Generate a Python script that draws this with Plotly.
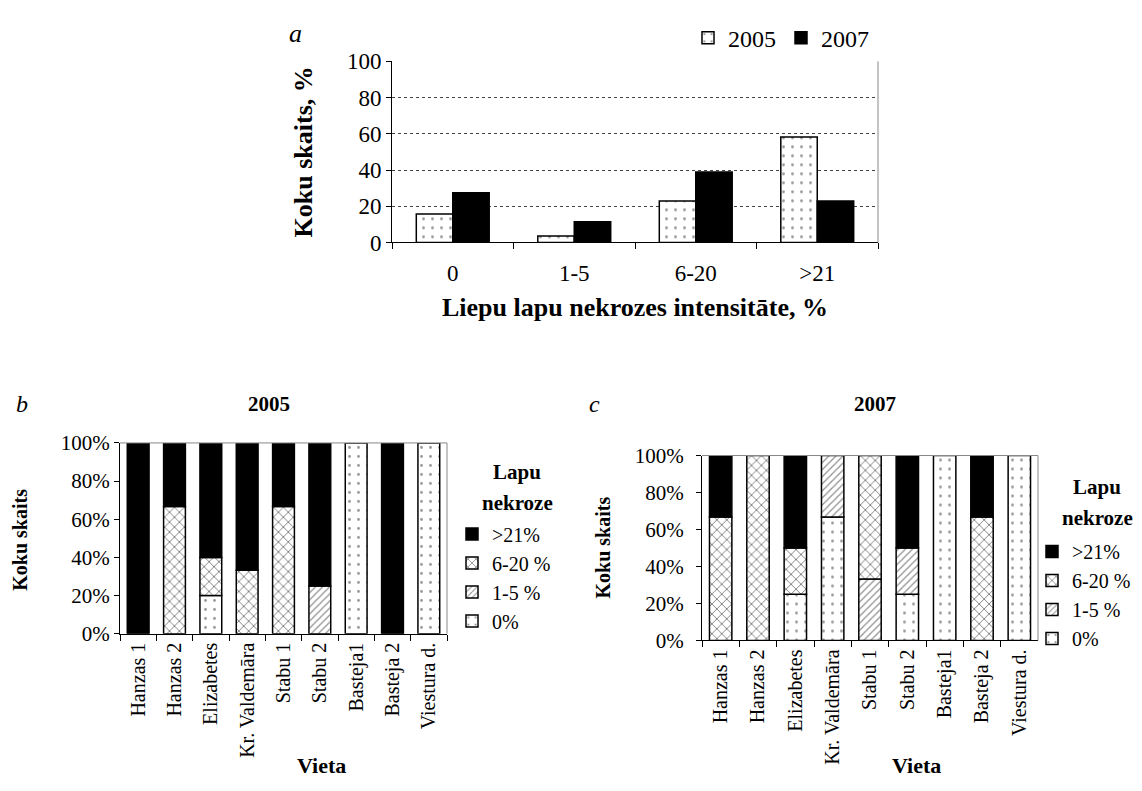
import plotly.graph_objects as go

W, H = 1142, 791
FONT = "'Liberation Serif', 'Times New Roman', Times, 'DejaVu Serif', serif"

# Panel a: share of trees by leaf necrosis intensity
intensity = ["0", "1-5", "6-20", ">21"]
share_2005 = [15.7, 3.6, 22.9, 58.2]
share_2007 = [27.5, 11.4, 38.9, 22.9]

# Panels b and c: necrosis classes per site
sites = ["Hanzas 1", "Hanzas 2", "Elizabetes", "Kr. Valdemāra", "Stabu 1",
         "Stabu 2", "Basteja1", "Basteja 2", "Viestura d."]
classes = ["0%", "1-5 %", "6-20 %", ">21%"]

y2005_0 = [0, 0, 20, 0, 0, 0, 100, 0, 100]
y2005_1_5 = [0, 0, 0, 0, 0, 25, 0, 0, 0]
y2005_6_20 = [0, 66.7, 20, 33.3, 66.7, 0, 0, 0, 0]
y2005_21 = [100, 33.3, 60, 66.7, 33.3, 75, 0, 100, 0]

y2007_0 = [0, 0, 25, 66.7, 0, 25, 100, 0, 100]
y2007_1_5 = [0, 0, 0, 33.3, 33.3, 25, 0, 0, 0]
y2007_6_20 = [66.7, 100, 25, 0, 66.7, 0, 0, 66.7, 0]
y2007_21 = [33.3, 0, 50, 0, 0, 50, 0, 33.3, 0]


def px(x):
    return x / W


def py(y):
    return 1 - y / H


def fill_style(kind):
    line = dict(color="black", width=1.5)
    if kind == "solid":
        return dict(color="black", line=line)
    shape, size, sol, fg = {"dots": (".", 9, 0.08, "#333"),
                            "cross": ("x", 7, 0.25, "black"),
                            "diag": ("/", 5, 0.25, "#222")}[kind]
    return dict(color="white", line=line,
                pattern=dict(shape=shape, fgcolor=fg, bgcolor="white",
                             size=size, solidity=sol))


fig = go.Figure()

# ---- panel a: grouped bars
fig.add_trace(go.Bar(x=intensity, y=share_2005, name="2005", width=0.3, offset=-0.3,
                     marker=fill_style("dots"), xaxis="x", yaxis="y", legend="legend"))
fig.add_trace(go.Bar(x=intensity, y=share_2007, name="2007", width=0.3, offset=0,
                     marker=fill_style("solid"), xaxis="x", yaxis="y", legend="legend"))

# ---- panels b and c: stacked shares via explicit bases
styles = ["dots", "diag", "cross", "solid"]


def add_stack(series, xa, ya, leg):
    base = [0.0] * len(sites)
    for name, vals, st in zip(classes, series, styles):
        y = [v if v > 0 else None for v in vals]
        b = [bv if v > 0 else None for bv, v in zip(base, vals)]
        fig.add_trace(go.Bar(x=sites, y=y, base=b, name=name, width=0.6,
                             marker=fill_style(st), xaxis=xa, yaxis=ya,
                             legend=leg))
        base = [bv + v for bv, v in zip(base, vals)]


add_stack([y2005_0, y2005_1_5, y2005_6_20, y2005_21], "x2", "y2", "legend2")
add_stack([y2007_0, y2007_1_5, y2007_6_20, y2007_21], "x3", "y3", "legend3")

tick_font = dict(family=FONT, size=21, color="black")
rot_font = dict(family=FONT, size=20, color="black")

common_x = dict(type="category", showline=True, linecolor="black", linewidth=1,
                ticks="outside", tickson="boundaries", ticklen=6, tickcolor="black",
                showgrid=False, zeroline=False)
common_y = dict(range=[0, 100], dtick=20, showline=True, linecolor="black",
                linewidth=1, ticks="outside", ticklen=5, tickcolor="black",
                zeroline=False)

fig.update_layout(
    width=W, height=H, margin=dict(l=0, r=0, t=0, b=0),
    paper_bgcolor="white", plot_bgcolor="white",
    barmode="overlay", bargap=0.4,
    font=dict(family=FONT, color="black"),
    xaxis=dict(common_x, domain=[px(392), px(878)], anchor="y",
               tickfont=dict(family=FONT, size=23, color="black"),
               ticklabelstandoff=10),
    yaxis=dict(common_y, domain=[py(238), py(51)], anchor="x",
               tickfont=dict(family=FONT, size=23, color="black"),
               showgrid=True, gridcolor="#444", griddash="dot", gridwidth=1),
    xaxis2=dict(common_x, domain=[px(120), px(447)], anchor="y2", tickangle=-90,
                tickfont=rot_font),
    yaxis2=dict(common_y, domain=[py(642), py(445)], anchor="x2", ticksuffix="%",
                tickfont=tick_font, showgrid=False),
    xaxis3=dict(common_x, domain=[px(702), px(1038)], anchor="y3", tickangle=-90,
                tickfont=rot_font),
    yaxis3=dict(common_y, domain=[py(649), py(458)], anchor="x3", ticksuffix="%",
                tickfont=tick_font, showgrid=False, ticklabelstandoff=8),
    legend=dict(orientation="h", x=px(688), y=py(27), xanchor="left", yanchor="middle",
                font=dict(family=FONT, size=24, color="black"), itemwidth=30,
                bgcolor="rgba(0,0,0,0)"),
    legend2=dict(x=px(452), y=py(584), xanchor="left", yanchor="middle",
                 traceorder="reversed", font=dict(family=FONT, size=20, color="black"),
                 itemwidth=30, tracegroupgap=0, bgcolor="rgba(0,0,0,0)"),
    legend3=dict(x=px(1032), y=py(602), xanchor="left", yanchor="middle",
                 traceorder="reversed", font=dict(family=FONT, size=20, color="black"),
                 itemwidth=30, tracegroupgap=0, bgcolor="rgba(0,0,0,0)"),
)

# plot-area frame lines (grey right/top edges)
for xa, ya, top in (("x", "y", False), ("x2", "y2", True), ("x3", "y3", True)):
    fig.add_shape(type="line", xref=f"{xa} domain", yref=f"{ya} domain",
                  x0=1, x1=1, y0=0, y1=1, line=dict(color="#888", width=1))
    if top:
        fig.add_shape(type="line", xref=f"{xa} domain", yref=f"{ya} domain",
                      x0=0, x1=1, y0=1, y1=1, line=dict(color="#888", width=1))


def note(text, x, y, size=20, bold=False, italic=False, angle=0):
    if bold:
        text = f"<b>{text}</b>"
    if italic:
        text = f"<i>{text}</i>"
    fig.add_annotation(text=text, x=px(x), y=py(y), xref="paper", yref="paper",
                       showarrow=False, textangle=angle, xanchor="center",
                       yanchor="middle", font=dict(family=FONT, size=size, color="black"))


# panel a labels
note("a", 296, 22, size=26, italic=True)
note("Koku skaits, %", 303, 145, size=26, bold=True, angle=-90)
note("Liepu lapu nekrozes intensitāte, %", 635, 305, size=26, bold=True)

# panel b labels
note("b", 22, 405, size=24, italic=True)
note("2005", 269, 405, size=21, bold=True)
note("Koku skaits", 20, 545, size=20, bold=True, angle=-90)
note("Vieta", 321, 778, size=22, bold=True)
note("Lapu", 517, 475, size=21, bold=True)
note("nekroze", 517, 507, size=21, bold=True)

# panel c labels
note("c", 594, 405, size=24, italic=True)
note("2007", 875, 405, size=21, bold=True)
note("Koku skaits", 603, 553, size=20, bold=True, angle=-90)
note("Vieta", 916, 778, size=22, bold=True)
note("Lapu", 1097, 490, size=21, bold=True)
note("nekroze", 1097, 522, size=21, bold=True)

fig.write_html("out.html")
